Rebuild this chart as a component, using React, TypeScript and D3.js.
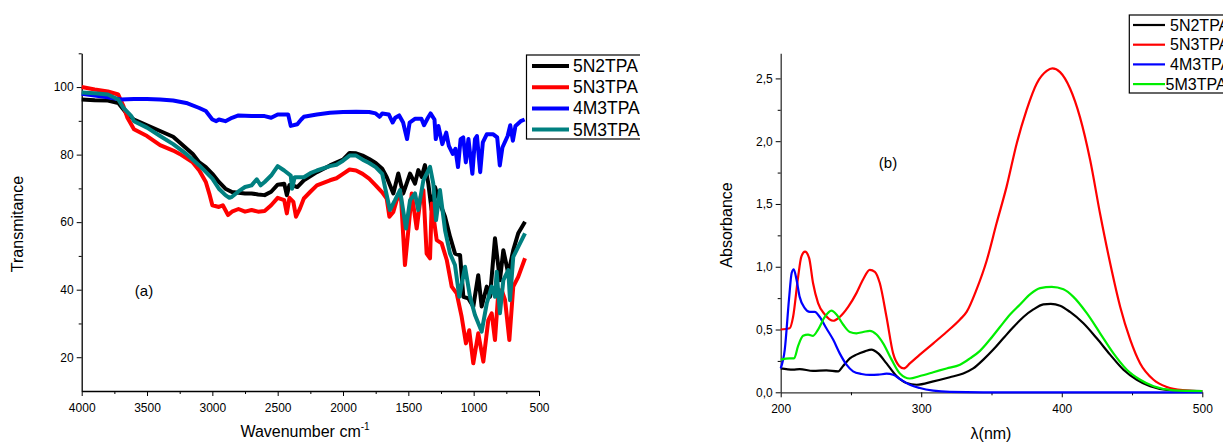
import React, { useEffect, useRef } from 'react'
import * as d3 from 'd3'

// ---- FTIR (a) ----
const irNames = ['5N2TPA', '5N3TPA', '4M3TPA', '5M3TPA']
const irColors = ['#000000', '#ff0000', '#0000ff', '#008080']

const ir5N2TPA = [[4000,96.3],[3900,96.1],[3800,96],[3720,95.3],[3650,91.9],[3600,90.4],[3500,88.7],[3400,87],[3300,85.3],[3250,83.6],[3150,80.2],[3100,77.7],[3050,76.3],[3000,74.3],[2950,71.9],[2900,69.9],[2850,68.9],[2800,68.7],[2750,68.5],[2700,68.5],[2650,68.2],[2600,68],[2550,69],[2500,71.1],[2450,71.4],[2430,68],[2410,71],[2380,70.8],[2350,70.4],[2300,72.4],[2200,74.8],[2100,76.8],[2000,78.5],[1950,80.5],[1900,80.4],[1850,79.7],[1800,78.7],[1750,77.5],[1700,75.8],[1666,73.4],[1615,68.5],[1577,74.4],[1539,68.5],[1487,74.4],[1449,71.4],[1424,75.4],[1398,73.4],[1373,76.9],[1347,71.4],[1322,63.6],[1296,70.4],[1258,65.5],[1219,61.6],[1181,55.7],[1143,50.7],[1104,50.2],[1079,37.9],[1041,37.4],[1003,35],[965,44.3],[939,35],[900,40.9],[875,37.9],[837,55.2],[799,42.8],[773,51.7],[735,44.8],[697,51.7],[659,56.7],[607,60.1]]
const ir5N3TPA = [[4000,100],[3900,99.3],[3800,98.7],[3720,97.8],[3680,94.3],[3650,90.9],[3600,87.5],[3500,85.5],[3400,82.8],[3300,81.2],[3250,80.2],[3150,77.7],[3100,75.3],[3050,71.9],[3020,68],[3000,65],[2950,64.5],[2920,65],[2880,62.1],[2850,63.1],[2800,63.9],[2750,63.1],[2700,63.6],[2650,63.1],[2600,63.3],[2550,65],[2500,67.2],[2450,66.5],[2430,62.6],[2410,67.2],[2380,66],[2360,61.6],[2330,64],[2300,67],[2250,69],[2200,70.9],[2100,72.4],[2050,73],[2000,74.3],[1950,75.6],[1900,75.3],[1850,74.3],[1800,72.9],[1750,70.9],[1700,68.8],[1666,67],[1645,61.6],[1615,63],[1589,66.5],[1558,68.5],[1526,47.3],[1500,57.6],[1474,68.5],[1436,58.1],[1405,67.5],[1385,69.5],[1360,50.7],[1334,49.3],[1321,65.5],[1283,54.7],[1245,53.7],[1206,48.8],[1168,40.9],[1130,38.9],[1092,32],[1059,24.1],[1034,28],[1003,18.2],[965,27.1],[926,18.7],[888,31],[862,33],[837,25.1],[812,38.9],[786,39.9],[760,37],[727,25.1],[697,40.9],[659,43.8],[607,49.3]]
const ir4M3TPA = [[4000,98],[3900,97.5],[3800,97],[3700,96.3],[3600,96.5],[3500,96.5],[3400,96.3],[3300,96],[3200,95.3],[3100,93.8],[3050,92.9],[3000,90.4],[2970,89.9],[2950,90.4],[2900,89.9],[2850,90.9],[2800,91.6],[2700,91.4],[2600,91.4],[2550,90.9],[2500,91.9],[2420,91.9],[2400,88.5],[2350,89],[2320,90.4],[2300,91.2],[2200,91.9],[2100,92.4],[2000,92.6],[1900,92.7],[1800,92.6],[1750,92.2],[1720,91.2],[1700,92.2],[1650,91.9],[1620,89.5],[1600,90.9],[1570,91.6],[1540,89.5],[1510,84.6],[1490,89.5],[1450,90.6],[1400,90.6],[1380,88.7],[1350,90.9],[1330,92.2],[1300,90.4],[1290,84.6],[1270,88.5],[1240,83.1],[1210,86.5],[1190,82.6],[1160,80.2],[1140,81.7],[1120,76.3],[1100,84.6],[1080,85.1],[1060,77.7],[1040,84.6],[1010,74.3],[990,84.6],[975,85.5],[950,74.8],[930,83.6],[900,86],[850,86],[820,85.1],[800,76.8],[780,82.1],[740,85.5],[720,88.7],[700,84.1],[680,88.5],[640,89.9],[610,90.4]]
const ir5M3TPA = [[4000,98.4],[3900,98.2],[3800,97.8],[3720,96.3],[3680,93.8],[3620,91.4],[3600,89.9],[3500,88],[3400,85.5],[3300,83.1],[3200,80.2],[3100,76.8],[3000,72.9],[2950,69.9],[2900,68],[2870,67.2],[2850,67.5],[2800,69.1],[2750,70.4],[2700,70.9],[2660,72.7],[2630,70.9],[2600,71.9],[2550,73.8],[2500,76.6],[2450,75.3],[2400,73.8],[2390,69.9],[2370,73.3],[2300,73.3],[2250,74.5],[2200,75.3],[2100,76.6],[2050,77],[2000,78.2],[1950,79.7],[1900,79.7],[1850,78.5],[1800,77.5],[1750,76.3],[1700,74.3],[1679,70.4],[1641,63.6],[1602,66.5],[1564,69.5],[1518,58.1],[1487,66.5],[1449,68.5],[1424,63.6],[1385,72.4],[1334,76.4],[1309,71.4],[1288,60.6],[1258,69.5],[1219,57.6],[1181,50.7],[1143,47.3],[1110,37.9],[1066,46.8],[1028,37.9],[990,32.5],[939,27.6],[900,35.9],[862,40.9],[837,37.9],[824,45.3],[799,33],[773,42.8],[735,45.8],[722,36.9],[697,49.7],[659,52.7],[607,56.7]]
const irSeries = [ir5N2TPA, ir5N3TPA, ir4M3TPA, ir5M3TPA]
const irXTicks = [4000, 3500, 3000, 2500, 2000, 1500, 1000, 500]
const irYTicks = [20, 40, 60, 80, 100]

// ---- UV-Vis (b) ----
const uvNames = ['5N2TPA', '5N3TPA', '4M3TPA', '5M3TPA']
const uvColors = ['#000000', '#ff0000', '#0000ff', '#00ee00']

const uv5N2TPA = [[200,0.19],[208.8,0.18],[213.5,0.185],[223,0.17],[232.5,0.175],[240.9,0.167],[244.4,0.21],[249.2,0.27],[253.9,0.3],[259.9,0.326],[264.6,0.34],[269.4,0.31],[275.3,0.23],[282.4,0.13],[289.5,0.074],[296.7,0.06],[308.6,0.087],[320.4,0.12],[329.9,0.15],[337,0.19],[344.2,0.26],[351.3,0.34],[358.4,0.43],[365.6,0.52],[372.7,0.6],[379.8,0.66],[386.9,0.7],[392.2,0.705],[398.8,0.69],[405.9,0.64],[415.4,0.55],[424.9,0.43],[434.4,0.3],[443.9,0.18],[453.4,0.1],[462.9,0.048],[474.8,0.02],[500,0.01]]
const uv5N3TPA = [[200,0.5],[206.4,0.51],[208.8,0.6],[212.4,0.92],[214.7,1.08],[217.3,1.12],[220.2,1.07],[223,0.87],[226.6,0.71],[231.4,0.62],[237.3,0.57],[242,0.6],[248,0.68],[253.9,0.79],[258.7,0.9],[263.4,0.975],[267,0.96],[270.5,0.87],[275.3,0.6],[280,0.31],[284.3,0.21],[287.6,0.19],[291.9,0.23],[299,0.3],[308.6,0.39],[318,0.48],[327.6,0.58],[332.3,0.64],[339.4,0.82],[346.6,1.05],[353.7,1.35],[360.8,1.64],[367.9,1.98],[375,2.25],[382.2,2.46],[389.3,2.56],[393.3,2.58],[398.8,2.55],[405.9,2.42],[413,2.19],[420.2,1.85],[427.3,1.42],[434.4,1.03],[441.6,0.68],[448.7,0.42],[455.8,0.23],[465.3,0.1],[474.8,0.042],[486.7,0.016],[500,0.008]]
const uv4M3TPA = [[200,0.19],[202.9,0.34],[205.9,0.74],[207.8,0.95],[209.3,0.98],[211.2,0.9],[213.5,0.76],[217.1,0.67],[220.7,0.64],[224.2,0.64],[227.8,0.6],[232.5,0.51],[237.3,0.42],[242,0.31],[246.8,0.22],[251.5,0.167],[257.5,0.146],[263.4,0.138],[269.4,0.14],[275.3,0.148],[280,0.14],[284.8,0.106],[291.9,0.06],[299,0.034],[308.6,0.013],[320.4,0.003],[344,0],[500,0]]
const uv5M3TPA = [[200,0.26],[206.4,0.27],[209.5,0.27],[212.4,0.37],[215.9,0.45],[219.5,0.46],[223,0.45],[226.6,0.5],[231.4,0.6],[236.1,0.65],[239.7,0.62],[244.4,0.54],[249.2,0.48],[253.9,0.47],[258.7,0.48],[263.4,0.49],[268.2,0.46],[272.9,0.39],[278.9,0.26],[284.8,0.15],[291.9,0.11],[299,0.13],[308.6,0.16],[318,0.19],[327.6,0.22],[334.7,0.27],[341.8,0.33],[348.9,0.42],[356,0.52],[363.2,0.62],[370.3,0.7],[377.4,0.78],[384.6,0.83],[392.9,0.84],[401.2,0.82],[408.3,0.76],[417.8,0.63],[427.3,0.47],[436.8,0.31],[446.3,0.18],[455.8,0.1],[465.3,0.048],[479.6,0.016],[500,0.01]]
const uvSeries = [uv5N2TPA, uv5N3TPA, uv4M3TPA, uv5M3TPA]
const uvXTicks = [200, 300, 400, 500]
const uvYTicks = [0, 0.5, 1, 1.5, 2, 2.5]

const FONT = '"Liberation Sans", Arial, sans-serif'

export default function App() {
  const svgRef = useRef(null)

  useEffect(() => {
    const svg = d3.select(svgRef.current)
    svg.selectAll('*').remove()
    svg.attr('font-family', FONT)

    // ---------- left panel (cropped at x=640 like the original figure) ----------
    svg.append('defs').append('clipPath').attr('id', 'leftClip')
      .append('rect').attr('x', 0).attr('y', 0).attr('width', 640).attr('height', 444)
    const left = svg.append('g').attr('clip-path', 'url(#leftClip)')

    const x1 = d3.scaleLinear().domain([4000, 500]).range([81.7, 539])
    const y1 = d3.scaleLinear().domain([10, 110]).range([391, 53.3])

    const xAx1 = left.append('g').attr('transform', 'translate(0,391)')
      .call(d3.axisBottom(x1).tickValues(irXTicks).tickSize(5).tickSizeOuter(0).tickFormat(d3.format('d')))
    left.append('g').attr('transform', 'translate(0,391)')
      .call(d3.axisBottom(x1).tickValues(d3.range(3750, 500, -500)).tickSize(3).tickFormat(() => ''))
      .select('.domain').remove()
    const yAx1 = left.append('g').attr('transform', 'translate(81.7,0)')
      .call(d3.axisLeft(y1).tickValues(irYTicks).tickSize(5).tickSizeOuter(0))
    left.append('g').attr('transform', 'translate(81.7,0)')
      .call(d3.axisLeft(y1).tickValues([30, 50, 70, 90, 110]).tickSize(3).tickFormat(() => ''))
      .select('.domain').remove()
    ;[xAx1, yAx1].forEach(a => {
      a.selectAll('text').attr('font-size', 12).attr('font-family', FONT).attr('fill', '#000')
      a.select('.domain').attr('stroke-width', 1.3)
    })
    xAx1.selectAll('text').attr('dy', '1.1em')

    const line1 = d3.line().x(d => x1(d[0])).y(d => y1(d[1]))
    irSeries.forEach((s, i) => {
      left.append('path').datum(s).attr('d', line1)
        .attr('fill', 'none').attr('stroke', irColors[i]).attr('stroke-width', 4)
        .attr('stroke-linejoin', 'round')
    })

    left.append('text').attr('transform', 'translate(23,224) rotate(-90)')
      .attr('text-anchor', 'middle').attr('font-size', 16).text('Transmitance')
    const xt1 = left.append('text').attr('x', 305).attr('y', 437)
      .attr('text-anchor', 'middle').attr('font-size', 16)
    xt1.append('tspan').text('Wavenumber cm')
    xt1.append('tspan').attr('dy', -7).attr('font-size', 10).text('-1')
    left.append('text').attr('x', 144).attr('y', 296).attr('text-anchor', 'middle')
      .attr('font-size', 15).text('(a)')

    // legend (a)
    const lg1 = left.append('g')
    lg1.append('rect').attr('x', 526.5).attr('y', 55).attr('width', 140).attr('height', 84)
      .attr('fill', '#fff').attr('stroke', '#000').attr('stroke-width', 1.2)
    irNames.forEach((n, i) => {
      const yy = 66 + i * 21.2
      lg1.append('line').attr('x1', 532).attr('x2', 569).attr('y1', yy).attr('y2', yy)
        .attr('stroke', irColors[i]).attr('stroke-width', 4)
      lg1.append('text').attr('x', 573).attr('y', yy + 6).attr('font-size', 17.5).text(n)
    })

    // ---------- right panel ----------
    const right = svg.append('g')
    const x2 = d3.scaleLinear().domain([200, 500]).range([780.7, 1202.3])
    const y2 = d3.scaleLinear().domain([0, 2.7]).range([392.3, 53.3])
    const comma = (d: number) => d3.format('.1f')(d).replace('.', ',')

    const xAx2 = right.append('g').attr('transform', 'translate(0,392.3)')
      .call(d3.axisBottom(x2).tickValues(uvXTicks).tickSize(5).tickSizeOuter(0).tickFormat(d3.format('d')))
    right.append('g').attr('transform', 'translate(0,392.3)')
      .call(d3.axisBottom(x2).tickValues([250, 350, 450]).tickSize(3).tickFormat(() => ''))
      .select('.domain').remove()
    const yAx2 = right.append('g').attr('transform', 'translate(780.7,0)')
      .call(d3.axisLeft(y2).tickValues(uvYTicks).tickSize(5).tickSizeOuter(0).tickFormat(comma))
    right.append('g').attr('transform', 'translate(780.7,0)')
      .call(d3.axisLeft(y2).tickValues([0.25, 0.75, 1.25, 1.75, 2.25]).tickSize(3).tickFormat(() => ''))
      .select('.domain').remove()
    ;[xAx2, yAx2].forEach(a => {
      a.selectAll('text').attr('font-size', 12).attr('font-family', FONT).attr('fill', '#000')
      a.select('.domain').attr('stroke', '#333').attr('stroke-width', 1.3)
    })
    xAx2.selectAll('text').attr('dy', '1.1em')

    const line2 = d3.line().x(d => x2(d[0])).y(d => y2(d[1])).curve(d3.curveMonotoneX)
    uvSeries.forEach((s, i) => {
      right.append('path').datum(s).attr('d', line2)
        .attr('fill', 'none').attr('stroke', uvColors[i]).attr('stroke-width', 2.2)
    })

    right.append('text').attr('transform', 'translate(732,225) rotate(-90)')
      .attr('text-anchor', 'middle').attr('font-size', 16).text('Absorbance')
    right.append('text').attr('x', 991).attr('y', 439).attr('text-anchor', 'middle')
      .attr('font-size', 16).text('λ(nm)')
    right.append('text').attr('x', 888).attr('y', 168).attr('text-anchor', 'middle')
      .attr('font-size', 15).text('(b)')

    // legend (b), runs off the right edge as in the original
    const lg2 = right.append('g')
    lg2.append('rect').attr('x', 1129.3).attr('y', 15).attr('width', 120).attr('height', 78)
      .attr('fill', '#fff').attr('stroke', '#000').attr('stroke-width', 1.2)
    uvNames.forEach((n, i) => {
      const yy = 25 + i * 19.7
      lg2.append('line').attr('x1', 1133).attr('x2', 1165).attr('y1', yy).attr('y2', yy)
        .attr('stroke', uvColors[i]).attr('stroke-width', 2.2)
      lg2.append('text').attr('x', i === 3 ? 1165.5 : 1170).attr('y', yy + 5.5)
        .attr('font-size', 16).text(n)
    })
  }, [])

  return (
    <svg ref={svgRef} width={1223} height={444}
      style={{ position: 'absolute', left: 0, top: 0, background: '#fff' }} />
  )
}
